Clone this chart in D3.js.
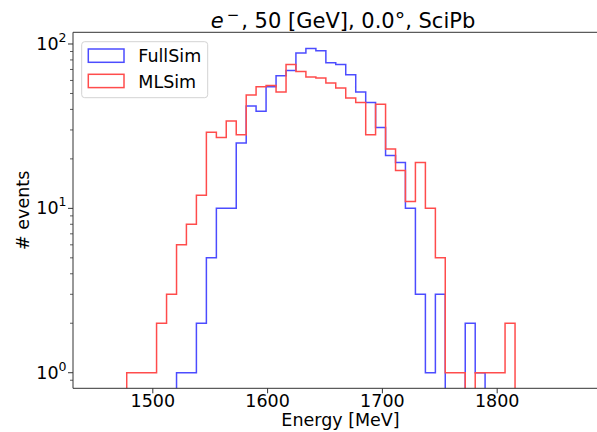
<!DOCTYPE html>
<html>
<head>
<meta charset="utf-8">
<script src="https://cdn.jsdelivr.net/npm/d3@7"></script>
<style>
  html, body { margin: 0; padding: 0; background: #fff; }
  svg { display: block; font-family: "DejaVu Sans", sans-serif; }
</style>
</head>
<body>
<svg id="chart" width="597" height="432"></svg>
<script>
// ---- data ----
const binEdges = [1477.7, 1486.4, 1495.0, 1503.7, 1512.4, 1521.1, 1529.7, 1538.4, 1547.1, 1555.8,
  1564.4, 1573.1, 1581.8, 1590.4, 1599.1, 1607.8, 1616.5, 1625.1, 1633.8, 1642.5,
  1651.2, 1659.8, 1668.5, 1677.2, 1685.9, 1694.5, 1703.2, 1711.9, 1720.5, 1729.2,
  1737.9, 1746.6, 1755.2, 1763.9, 1772.6, 1781.3, 1789.9, 1798.6, 1807.3, 1816.0];
const fullSimCounts = [0, 0, 0, 0, 0, 1, 1, 2, 5, 10,
  10, 25, 42, 39, 55, 64, 69, 88, 94, 91,
  77, 75, 65, 51, 44, 31, 21, 19, 10, 3,
  1, 3, 0, 0, 2, 1, 0, 0, 0];
const mlSimCounts = [1, 1, 1, 2, 3, 6, 8, 12, 29, 27,
  34, 28, 49, 55, 56, 51, 75, 68, 63, 62,
  58, 54, 47, 44, 28, 43, 23, 17, 11, 19,
  10, 5, 1, 1, 0, 1, 1, 1, 2];
const seriesNames = ["FullSim", "MLSim"];
const seriesColors = ["rgb(76,76,255)", "rgb(255,76,76)"];
const xTickValues = [1500, 1600, 1700, 1800];
const yMajorTicks = [1, 10, 100];
const yTickExponents = ["0", "1", "2"];
const xDomain = [1430.9, 1887.4];
const yDomain = [0.804, 117.8];

// ---- layout ----
const svg = d3.select("#chart");
const plot = { left: 73, right: 597, top: 32.3, bottom: 388.3 };
const FONT = "DejaVu Sans";

const x = d3.scaleLinear().domain(xDomain).range([plot.left, plot.right]);
const y = d3.scaleLog().domain(yDomain).range([plot.bottom, plot.top]);

svg.append("defs").append("clipPath").attr("id", "clip")
  .append("rect").attr("x", plot.left).attr("y", plot.top)
  .attr("width", plot.right - plot.left).attr("height", plot.bottom - plot.top);

// step outline like matplotlib histtype='step'
function stepPoints(counts) {
  const pts = [[binEdges[0], 0]];
  counts.forEach((c, i) => {
    pts.push([binEdges[i], c]);
    pts.push([binEdges[i + 1], c]);
  });
  pts.push([binEdges[counts.length], 0]);
  return pts;
}
const line = d3.line()
  .x(d => x(d[0]))
  .y(d => d[1] > 0 ? y(d[1]) : plot.bottom + 60);

const g = svg.append("g").attr("clip-path", "url(#clip)");
[fullSimCounts, mlSimCounts].forEach((counts, k) => {
  g.append("path")
    .attr("d", line(stepPoints(counts)))
    .attr("fill", "none")
    .attr("stroke", seriesColors[k])
    .attr("stroke-width", 1.5)
    .attr("stroke-linejoin", "miter");
});

// ---- axes ----
const axisColor = "#333";
svg.append("line").attr("x1", plot.left).attr("x2", plot.left)
  .attr("y1", plot.top).attr("y2", plot.bottom).attr("stroke", axisColor).attr("stroke-width", 1);
svg.append("line").attr("x1", plot.left).attr("x2", plot.right)
  .attr("y1", plot.bottom).attr("y2", plot.bottom).attr("stroke", axisColor).attr("stroke-width", 1);
svg.append("line").attr("x1", plot.left).attr("x2", plot.right)
  .attr("y1", plot.top).attr("y2", plot.top).attr("stroke", axisColor).attr("stroke-width", 1);

// x axis
const xAxis = d3.axisBottom(x).tickValues(xTickValues).tickSize(5).tickPadding(4).tickFormat(d3.format("d"));
const gx = svg.append("g").attr("transform", `translate(0,${plot.bottom})`).call(xAxis);
gx.select(".domain").remove();
gx.selectAll(".tick line").attr("stroke", axisColor);
gx.selectAll(".tick text").attr("font-family", FONT).attr("font-size", 17.5).attr("fill", "#000")
  .attr("dy", null).attr("y", 19);

// y axis ticks (major + minor)
const yTicksAll = y.ticks();
yTicksAll.forEach(t => {
  const isMajor = yMajorTicks.includes(t);
  svg.append("line")
    .attr("x1", plot.left).attr("x2", plot.left - (isMajor ? 5 : 3))
    .attr("y1", y(t)).attr("y2", y(t))
    .attr("stroke", axisColor).attr("stroke-width", isMajor ? 1 : 0.8);
});
yMajorTicks.forEach((t, i) => {
  const txt = svg.append("text")
    .attr("x", plot.left - 6.5).attr("y", y(t) + 5.8)
    .attr("text-anchor", "end")
    .attr("font-family", FONT).attr("font-size", 17.5).attr("fill", "#000");
  txt.append("tspan").text("10");
  txt.append("tspan").attr("font-size", 12.5).attr("dy", -8).text(yTickExponents[i]);
});

// axis labels
svg.append("text").attr("x", 340.5).attr("y", 426)
  .attr("text-anchor", "middle").attr("font-family", FONT).attr("font-size", 17.5)
  .attr("fill", "#000").text("Energy [MeV]");
svg.append("text").attr("transform", `translate(29,${(plot.top + plot.bottom) / 2}) rotate(-90)`)
  .attr("text-anchor", "middle").attr("font-family", FONT).attr("font-size", 17.5)
  .attr("fill", "#000").text("# events");

// title
const title = svg.append("text").attr("x", 343).attr("y", 28)
  .attr("text-anchor", "middle").attr("font-family", FONT).attr("font-size", 21).attr("fill", "#000");
title.append("tspan").attr("font-style", "italic").text("e");
title.append("tspan").attr("font-size", 15).attr("dx", 3).attr("dy", -8).text("\u2212");
title.append("tspan").attr("dx", 2).attr("dy", 8).text(", 50 [GeV], 0.0°, SciPb");

// legend
const lg = svg.append("g");
lg.append("rect").attr("x", 81.7).attr("y", 41.7).attr("width", 126).attr("height", 56)
  .attr("rx", 3).attr("fill", "#fff").attr("fill-opacity", 0.8)
  .attr("stroke", "#d3d3d3").attr("stroke-width", 1);
seriesNames.forEach((name, k) => {
  const yy = 49 + k * 25.3;
  lg.append("rect").attr("x", 88.3).attr("y", yy).attr("width", 35.7).attr("height", 13.3)
    .attr("fill", "none").attr("stroke", seriesColors[k]).attr("stroke-width", 1.5);
  lg.append("text").attr("x", 138.3).attr("y", yy + 13.3)
    .attr("font-family", FONT).attr("font-size", 17.5).attr("fill", "#000").text(name);
});
</script>
</body>
</html>
